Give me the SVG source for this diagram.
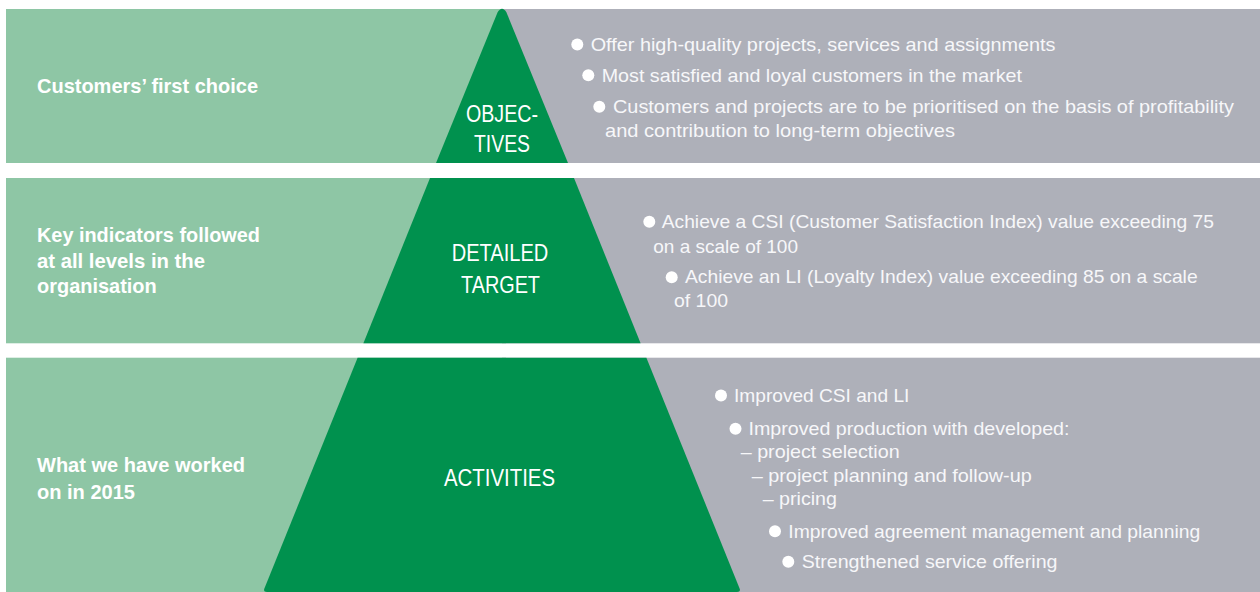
<svg xmlns="http://www.w3.org/2000/svg" width="1260" height="592" viewBox="0 0 1260 592">
<style>
.lg{fill:#8ec6a5}
.gr{fill:#aeb0b9}
.dg{fill:#00914e}
text{font-family:"Liberation Sans","Arial",sans-serif;fill:#ffffff}
.hd{font-size:21px;font-weight:bold}
.ct{font-size:24px;text-anchor:middle}
.bt{font-size:19px;fill:#f7f7f9}
.bl{fill:#ffffff}
</style>
<rect width="1260" height="592" fill="#ffffff"/>
<g id="band1">
<rect class="lg" x="6" y="9" width="500" height="154"/>
<rect class="gr" x="502" y="9" width="758" height="154"/>
<path class="dg" d="M436,163 L497.5,12.5 Q502,5 506.5,12.5 L568,163 Z"/>
<text class="hd" x="37" y="93" textLength="221" lengthAdjust="spacingAndGlyphs">Customers’ first choice</text>
<text class="ct" x="502" y="122" textLength="72" lengthAdjust="spacingAndGlyphs">OBJEC-</text>
<text class="ct" x="502" y="152" textLength="56" lengthAdjust="spacingAndGlyphs">TIVES</text>
<circle class="bl" cx="577.3" cy="44.5" r="6"/>
<text class="bt" x="590.7" y="50.7" textLength="464.8" lengthAdjust="spacingAndGlyphs">Offer high-quality projects, services and assignments</text>
<circle class="bl" cx="588.3" cy="75.2" r="6"/>
<text class="bt" x="601.7" y="81.7" textLength="420.3" lengthAdjust="spacingAndGlyphs">Most satisfied and loyal customers in the market</text>
<circle class="bl" cx="599.3" cy="106.8" r="6"/>
<text class="bt" x="613" y="113.3" textLength="621" lengthAdjust="spacingAndGlyphs">Customers and projects are to be prioritised on the basis of profitability</text>
<text class="bt" x="605" y="136.7" textLength="350" lengthAdjust="spacingAndGlyphs">and contribution to long-term objectives</text>
</g>
<g id="band2">
<rect class="lg" x="6" y="178" width="500" height="165.3"/>
<rect class="gr" x="502" y="178" width="758" height="165.3"/>
<path class="dg" d="M430,178 L574,178 L640.6,343.3 L363.4,343.3 Z"/>
<text class="hd" x="37" y="242" textLength="223" lengthAdjust="spacingAndGlyphs">Key indicators followed</text>
<text class="hd" x="37" y="268" textLength="168" lengthAdjust="spacingAndGlyphs">at all levels in the</text>
<text class="hd" x="37" y="293.3" textLength="119.7" lengthAdjust="spacingAndGlyphs">organisation</text>
<text class="ct" x="500" y="260.7" textLength="96.6" lengthAdjust="spacingAndGlyphs">DETAILED</text>
<text class="ct" x="500.5" y="292.7" textLength="79" lengthAdjust="spacingAndGlyphs">TARGET</text>
<circle class="bl" cx="649.3" cy="221.7" r="6"/>
<text class="bt" x="661.7" y="228.3" textLength="552.3" lengthAdjust="spacingAndGlyphs">Achieve a CSI (Customer Satisfaction Index) value exceeding 75</text>
<text class="bt" x="653.3" y="252.7" textLength="144.7" lengthAdjust="spacingAndGlyphs">on a scale of 100</text>
<circle class="bl" cx="671.7" cy="277.3" r="6"/>
<text class="bt" x="685" y="283.3" textLength="512.6" lengthAdjust="spacingAndGlyphs">Achieve an LI (Loyalty Index) value exceeding 85 on a scale</text>
<text class="bt" x="674" y="306.7" textLength="54" lengthAdjust="spacingAndGlyphs">of 100</text>
</g>
<g id="band3">
<rect class="lg" x="6" y="357.7" width="500" height="234.3"/>
<rect class="gr" x="502" y="357.7" width="758" height="234.3"/>
<path class="dg" d="M357.6,357.7 L646.4,357.7 L739.6,588.5 Q741,592 737,592 L267,592 Q263,592 264.4,588.5 Z"/>
<text class="hd" x="37" y="472.3" textLength="208" lengthAdjust="spacingAndGlyphs">What we have worked</text>
<text class="hd" x="37" y="499.3" textLength="98" lengthAdjust="spacingAndGlyphs">on in 2015</text>
<text class="ct" x="499.5" y="486" textLength="111" lengthAdjust="spacingAndGlyphs">ACTIVITIES</text>
<circle class="bl" cx="721" cy="395.5" r="6"/>
<text class="bt" x="734" y="401.7" textLength="175.4" lengthAdjust="spacingAndGlyphs">Improved CSI and LI</text>
<circle class="bl" cx="735.5" cy="428.7" r="6"/>
<text class="bt" x="748.5" y="435" textLength="321" lengthAdjust="spacingAndGlyphs">Improved production with developed:</text>
<text class="bt" x="740.7" y="458.3" textLength="159" lengthAdjust="spacingAndGlyphs">– project selection</text>
<text class="bt" x="751.7" y="481.7" textLength="280" lengthAdjust="spacingAndGlyphs">– project planning and follow-up</text>
<text class="bt" x="762.7" y="505" textLength="74.3" lengthAdjust="spacingAndGlyphs">– pricing</text>
<circle class="bl" cx="775" cy="531.2" r="6"/>
<text class="bt" x="788.3" y="537.7" textLength="412" lengthAdjust="spacingAndGlyphs">Improved agreement management and planning</text>
<circle class="bl" cx="788.3" cy="561.8" r="6"/>
<text class="bt" x="801.7" y="568.3" textLength="255.8" lengthAdjust="spacingAndGlyphs">Strengthened service offering</text>
</g>
<g id="connectors"/>
</svg>
